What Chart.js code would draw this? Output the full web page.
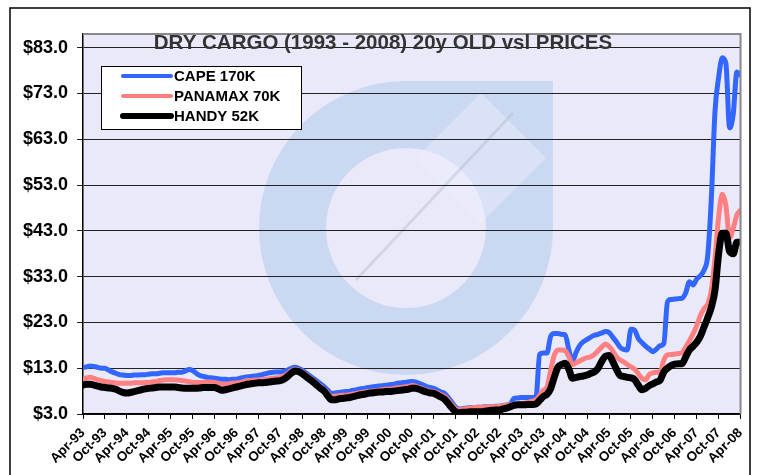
<!DOCTYPE html>
<html lang="en">
<head>
<meta charset="UTF-8">
<title>Dry cargo 20y old vsl prices</title>
<script src="https://cdn.jsdelivr.net/npm/chart.js@4.4.0/dist/chart.umd.min.js"></script>
<style>
    html, body { margin: 0; padding: 0; background: #fff; }
    #wrap { width: 758px; height: 475px; }
</style>
</head>
<body>
<div id="wrap"><canvas id="chartCanvas" width="758" height="475"></canvas></div>
<script>
// x-axis tick labels, one every 6 months (data below is monthly, Apr-93 .. Apr-08)
const tickLabels = ['Apr-93','Oct-93','Apr-94','Oct-94','Apr-95','Oct-95','Apr-96','Oct-96',
    'Apr-97','Oct-97','Apr-98','Oct-98','Apr-99','Oct-99','Apr-00','Oct-00','Apr-01','Oct-01',
    'Apr-02','Oct-02','Apr-03','Oct-03','Apr-04','Oct-04','Apr-05','Oct-05','Apr-06','Oct-06',
    'Apr-07','Oct-07','Apr-08'];
const yTicks = [3, 13, 23, 33, 43, 53, 63, 73, 83];

const seriesNames = ['CAPE 170K', 'PANAMAX 70K', 'HANDY 52K'];

// $ million, monthly
const cape = [
    13.2, 13.3, 13.5, 13.4, 13.2, 13.0,   13.0, 12.6, 12.2, 11.9, 11.6, 11.5,
    11.4, 11.4, 11.5, 11.5, 11.6, 11.6,   11.7, 11.8, 11.8, 11.9, 12.0, 12.0,
    12.0, 12.0, 12.1, 12.1, 12.4, 12.7,   12.5, 11.9, 11.4, 11.2, 11.0, 10.9,
    10.8, 10.7, 10.6, 10.6, 10.5, 10.6,   10.6, 10.8, 11.0, 11.1, 11.2, 11.3,
    11.4, 11.6, 11.8, 12.0, 12.1, 12.2,   12.2, 12.3, 12.6, 13.0, 13.2, 13.0,
    12.6, 12.0, 11.4, 10.8, 10.2, 9.6,    9.0, 8.2, 7.5, 7.6, 7.7, 7.8,
    7.9, 8.0, 8.2, 8.3, 8.5, 8.6,         8.8, 8.9, 9.0, 9.1, 9.2, 9.3,
    9.4, 9.5, 9.7, 9.8, 9.9, 10.0,        10.1, 10.0, 9.7, 9.4, 9.0, 8.8,
    8.6, 8.2, 7.8, 7.5, 6.6, 5.5,         4.5, 4.1, 4.2, 4.3, 4.4, 4.4,
    4.5, 4.5, 4.6, 4.6, 4.6, 4.7,         4.7, 4.8, 5.0, 5.2, 6.4, 6.5,
    6.6, 6.6, 6.6, 6.6, 6.6, 16.0,        16.3, 16.3, 19.9, 20.6, 20.6, 20.4,
    20.3, 17.0, 14.6, 16.5, 18.0, 18.8,   19.3, 19.8, 20.2, 20.4, 20.7, 21.0,
    20.8, 19.8, 18.8, 17.6, 17.1, 17.0,   21.5, 21.3, 19.5, 18.6, 17.8, 17.2,
    16.6, 17.2, 17.9, 18.4, 27.5, 28.0,   28.1, 28.2, 28.3, 29.5, 31.9, 31.2,
    32.5, 33.2, 34.4, 37.5, 50.0, 69.0,   76.5, 80.8, 79.5, 65.5, 68.5, 77.7,
    77.0
];
const panamax = [
    10.6, 10.9, 11.0, 10.8, 10.5, 10.3,   10.1, 10.0, 9.9, 9.8, 9.7, 9.7,
    9.7, 9.7, 9.8, 9.8, 9.8, 9.9,         9.9, 10.0, 10.1, 10.3, 10.4, 10.5,
    10.5, 10.5, 10.4, 10.3, 10.2, 10.1,   9.9, 9.9, 9.9, 9.9, 10.0, 10.0,
    9.9, 9.7, 9.5, 9.5, 9.6, 9.7,         9.8, 9.9, 10.1, 10.3, 10.3, 10.4,
    10.4, 10.5, 10.6, 10.7, 10.8, 10.9,   11.0, 11.3, 11.8, 12.4, 12.8, 12.6,
    12.2, 11.6, 11.0, 10.4, 9.7, 9.0,     8.4, 7.6, 6.8, 6.9, 7.0, 7.1,
    7.1, 7.2, 7.4, 7.5, 7.7, 7.8,         7.9, 8.0, 8.1, 8.2, 8.3, 8.4,
    8.4, 8.6, 8.7, 8.8, 8.9, 9.0,         9.2, 9.1, 8.8, 8.5, 8.2, 8.0,
    7.9, 7.6, 7.2, 6.8, 6.0, 5.0,         4.2, 3.9, 4.1, 4.2, 4.3, 4.4,
    4.5, 4.5, 4.5, 4.6, 4.6, 4.6,         4.7, 4.8, 4.9, 5.0, 5.1, 5.2,
    5.3, 5.4, 5.6, 5.8, 6.1, 7.0,         8.2, 8.8, 12.5, 15.8, 17.0, 17.0,
    16.8, 15.5, 13.8, 14.2, 14.6, 15.0,   15.3, 15.5, 16.0, 16.8, 17.6, 18.3,
    17.8, 16.8, 15.5, 14.8, 14.4, 13.8,   13.3, 12.8, 11.8, 10.8, 10.5, 11.6,
    12.0, 12.1, 12.2, 14.8, 15.9, 16.0,   16.1, 16.2, 16.4, 17.6, 19.0, 20.5,
    22.3, 24.5, 26.0, 27.0, 30.0, 37.0,   46.0, 51.0, 48.5, 41.5, 43.5, 46.5,
    47.5
];
const handy = [
    9.3, 9.5, 9.5, 9.3, 9.1, 8.9,         8.8, 8.7, 8.6, 8.4, 8.0, 7.7,
    7.6, 7.7, 7.9, 8.1, 8.3, 8.5,         8.6, 8.7, 8.8, 8.9, 8.9, 8.9,
    8.9, 8.9, 8.8, 8.7, 8.6, 8.6,         8.6, 8.6, 8.7, 8.8, 8.8, 8.8,
    8.8, 8.5, 8.2, 8.3, 8.5, 8.7,         8.9, 9.1, 9.3, 9.5, 9.6, 9.7,
    9.8, 9.8, 9.9, 10.0, 10.1, 10.2,      10.3, 10.6, 11.2, 11.9, 12.4, 12.3,
    11.8, 11.2, 10.6, 10.0, 9.3, 8.6,     8.0, 7.0, 6.1, 6.1, 6.3, 6.4,
    6.5, 6.6, 6.8, 7.0, 7.2, 7.3,         7.5, 7.6, 7.7, 7.8, 7.8, 7.9,
    7.9, 8.0, 8.1, 8.2, 8.3, 8.4,         8.6, 8.6, 8.4, 8.1, 7.8, 7.6,
    7.5, 7.1, 6.7, 6.2, 5.3, 4.3,         3.5, 3.3, 3.4, 3.4, 3.5, 3.5,
    3.5, 3.5, 3.6, 3.7, 3.8, 3.9,         3.9, 4.1, 4.3, 4.6, 4.9, 5.0,
    5.0, 5.0, 5.1, 5.1, 5.2, 6.0,         6.8, 7.3, 8.5, 11.0, 13.2, 13.8,
    14.1, 12.8, 10.8, 11.0, 11.2, 11.3,   11.5, 11.9, 12.2, 13.0, 14.5, 15.6,
    15.8, 14.5, 12.8, 11.4, 11.2, 11.0,   10.9, 10.5, 9.3, 8.3, 8.6, 9.2,
    9.6, 10.0, 10.4, 12.2, 13.0, 13.6,    13.9, 14.0, 14.0, 15.5, 17.0, 17.8,
    18.7, 20.0, 22.0, 24.0, 26.3, 30.0,   38.0, 42.5, 42.5, 38.5, 38.0, 40.5,
    40.5
];

const colors = ['#3366FF', '#FF8080', '#000000'];
const widths = [5, 5, 7];

function toPoints(arr) {
    return arr.map((v, i) => ({ x: i, y: v }));
}

// fond, filigrane, titre, legende, cadre
const decor = {
    id: 'decor',
    beforeDraw(chart) {
        const { ctx, chartArea: a } = chart;
        ctx.save();
        ctx.fillStyle = '#fff';
        ctx.fillRect(0, 0, chart.width, chart.height);
        ctx.fillStyle = '#E9E9FA';
        ctx.fillRect(a.left, a.top, a.right - a.left, a.bottom - a.top);

        // faded logo in the background
        const cx = 406, cy = 228, R = 147, r = 80;
        ctx.beginPath();
        ctx.moveTo(cx, cy - R);
        ctx.arc(cx, cy, R, -Math.PI / 2, 0, true);
        ctx.lineTo(cx + R, cy - R);
        ctx.closePath();
        ctx.moveTo(cx + r, cy);
        ctx.arc(cx, cy, r, 0, Math.PI * 2);
        ctx.fillStyle = 'rgba(160,196,228,0.42)';
        ctx.fill('evenodd');
        ctx.fillStyle = 'rgba(236,238,252,0.45)';
        ctx.beginPath();
        ctx.moveTo(cx + 75, cy - 135);
        ctx.lineTo(cx + 140, cy - 70);
        ctx.lineTo(cx + 75, cy - 5);
        ctx.lineTo(cx + 10, cy - 70);
        ctx.closePath();
        ctx.fill();
        ctx.strokeStyle = 'rgba(170,178,196,0.35)';
        ctx.lineWidth = 3;
        ctx.beginPath();
        ctx.moveTo(cx - 50, cy + 52);
        ctx.lineTo(cx + 107, cy - 115);
        ctx.stroke();
        ctx.restore();
    },
    afterDraw(chart) {
        const { ctx, chartArea: a } = chart;
        ctx.save();
        // grey frame on top/right of plot
        ctx.strokeStyle = '#888';
        ctx.lineWidth = 2;
        ctx.beginPath();
        ctx.moveTo(a.left, a.top);
        ctx.lineTo(a.right, a.top);
        ctx.lineTo(a.right, a.bottom);
        ctx.stroke();

        // title
        ctx.font = 'bold 20.5px Arial, "Liberation Sans", sans-serif';
        ctx.fillStyle = '#333';
        ctx.textAlign = 'center';
        ctx.textBaseline = 'alphabetic';
        ctx.fillText('DRY CARGO (1993 - 2008) 20y OLD vsl PRICES', 383, 49);

        // legend
        ctx.fillStyle = '#fff';
        ctx.fillRect(101, 66, 200, 63);
        ctx.strokeStyle = '#000';
        ctx.lineWidth = 1;
        ctx.strokeRect(101.5, 66.5, 200, 63);
        ctx.font = 'bold 15px Arial, "Liberation Sans", sans-serif';
        ctx.textAlign = 'left';
        ctx.textBaseline = 'middle';
        ctx.lineCap = 'round';
        seriesNames.forEach((name, i) => {
            const y = 76 + i * 20;
            ctx.strokeStyle = colors[i];
            ctx.lineWidth = widths[i] - 1;
            ctx.beginPath();
            ctx.moveTo(123, y);
            ctx.lineTo(171, y);
            ctx.stroke();
            ctx.fillStyle = '#000';
            ctx.fillText(name, 174, y + 1);
        });

        // outer border
        ctx.strokeStyle = '#000';
        ctx.lineWidth = 1.5;
        ctx.strokeRect(10, 8, 740, 500);
        ctx.restore();
    }
};

const ctx = document.getElementById('chartCanvas').getContext('2d');
const chart = new Chart(ctx, {
    type: 'line',
    data: {
        datasets: [
            { label: seriesNames[0], data: toPoints(cape), borderColor: colors[0], borderWidth: widths[0], order: 3 },
            { label: seriesNames[1], data: toPoints(panamax), borderColor: colors[1], borderWidth: widths[1], order: 2 },
            { label: seriesNames[2], data: toPoints(handy), borderColor: colors[2], borderWidth: widths[2], order: 1 }
        ]
    },
    options: {
        responsive: false,
        animation: false,
        devicePixelRatio: 1,
        layout: { padding: { left: 0, right: 17, top: 34, bottom: 0 } },
        elements: {
            point: { radius: 0 },
            line: { cubicInterpolationMode: 'monotone', borderJoinStyle: 'round', borderCapStyle: 'round' }
        },
        plugins: { legend: { display: false }, tooltip: { enabled: false } },
        scales: {
            x: {
                type: 'linear',
                min: 0,
                max: 180,
                afterBuildTicks: (scale) => { scale.ticks = tickLabels.map((t, i) => ({ value: i * 6 })); },
                afterFit: (scale) => { scale.height = 61; },
                ticks: {
                    autoSkip: false,
                    maxRotation: 45,
                    minRotation: 45,
                    padding: 6,
                    color: '#000',
                    font: { family: 'Arial, "Liberation Sans", sans-serif', size: 13.5, weight: 'bold' },
                    callback: (v) => tickLabels[Math.round(v / 6)]
                },
                grid: { drawOnChartArea: false, drawTicks: true, tickLength: 5, color: '#000' },
                border: { color: '#000', width: 1.5 }
            },
            y: {
                min: 3,
                max: 86,
                afterBuildTicks: (scale) => { scale.ticks = yTicks.map(v => ({ value: v })); },
                afterFit: (scale) => { scale.width = 83; },
                ticks: {
                    padding: 9,
                    color: '#000',
                    font: { family: 'Arial, "Liberation Sans", sans-serif', size: 18, weight: 'bold' },
                    callback: (v) => '$' + v.toFixed(1)
                },
                grid: { color: '#222', lineWidth: 1, tickLength: 6 },
                border: { color: '#000', width: 1.5 }
            }
        }
    },
    plugins: [decor]
});
</script>
</body>
</html>
